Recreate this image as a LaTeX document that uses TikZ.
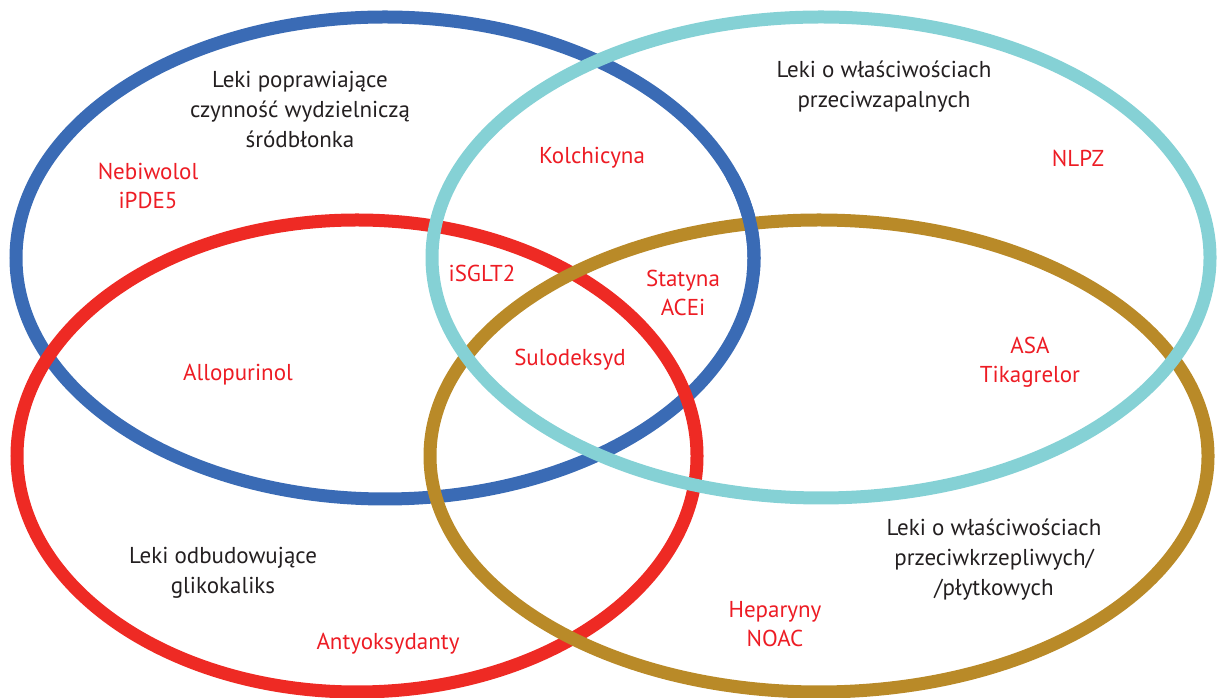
\documentclass[tikz,border=0pt]{standalone}
\usepackage{fontspec}
\setmainfont{PT Sans}
\definecolor{cblue}{HTML}{3A6BB5}
\definecolor{ccyan}{HTML}{85D1D5}
\definecolor{cred}{HTML}{EE2A24}
\definecolor{cgold}{HTML}{B98A28}
\definecolor{tred}{HTML}{ED1C24}
\definecolor{tblack}{HTML}{231F20}
\begin{document}
\begin{tikzpicture}[x=1pt,y=1pt,
  ring/.style={line width=13pt},
  lbl/.style={align=center,text=tblack,font=\fontsize{23}{30}\selectfont,inner sep=0pt},
  drug/.style={align=center,text=tred,font=\fontsize{23}{29}\selectfont,inner sep=0pt}]
\useasboundingbox (0,0) rectangle (1217,698);
% rings (stacking order as in the reference)
\draw[ring,cblue] (385,440) ellipse [x radius=369pt, y radius=241pt];
\draw[ring,cred]  (357,242) ellipse [x radius=340pt, y radius=236pt];
\draw[ring,cgold] (819,242) ellipse [x radius=389pt, y radius=236pt];
\draw[ring,ccyan] (821,440.5) ellipse [x radius=389pt, y radius=240.5pt];
% blue passes over gold at the upper right crossing
\draw[ring,cblue] ([shift={(-4:369pt and 241pt)}]385,440) arc[start angle=-4,end angle=20,x radius=369pt,y radius=241pt];
% texts
\node[lbl]  (endo)  at (300,588)   {Leki poprawiające\\czynność wydzielniczą\\śródbłonka};
\node[drug] (nebi)  at (148,512)   {Nebiwolol\\iPDE5};
\node[drug] (kolch) at (592,540)   {Kolchicyna};
\node[lbl]  (infl)  at (884,611.5) {Leki o właściwościach\\przeciwzapalnych};
\node[drug] (nlpz)  at (1078,540)  {NLPZ};
\node[drug] (isglt) at (482,425)   {iSGLT2};
\node[drug] (stat)  at (683,405.5) {Statyna\\ACEi};
\node[drug] (sulo)  at (570,338)   {Sulodeksyd};
\node[drug] (allo)  at (238,323)   {Allopurinol};
\node[drug] (asa)   at (1030,335.5){ASA\\Tikagrelor};
\node[lbl]  (antik) at (994,138)   {Leki o właściwościach\\przeciwkrzepliwych/\\/płytkowych};
\node[lbl]  (glik)  at (223,125.5) {Leki odbudowujące\\glikokaliks};
\node[drug] (antyo) at (388,54)    {Antyoksydanty};
\node[drug] (hep)   at (775,74)    {Heparyny\\NOAC};
\end{tikzpicture}
\end{document}
